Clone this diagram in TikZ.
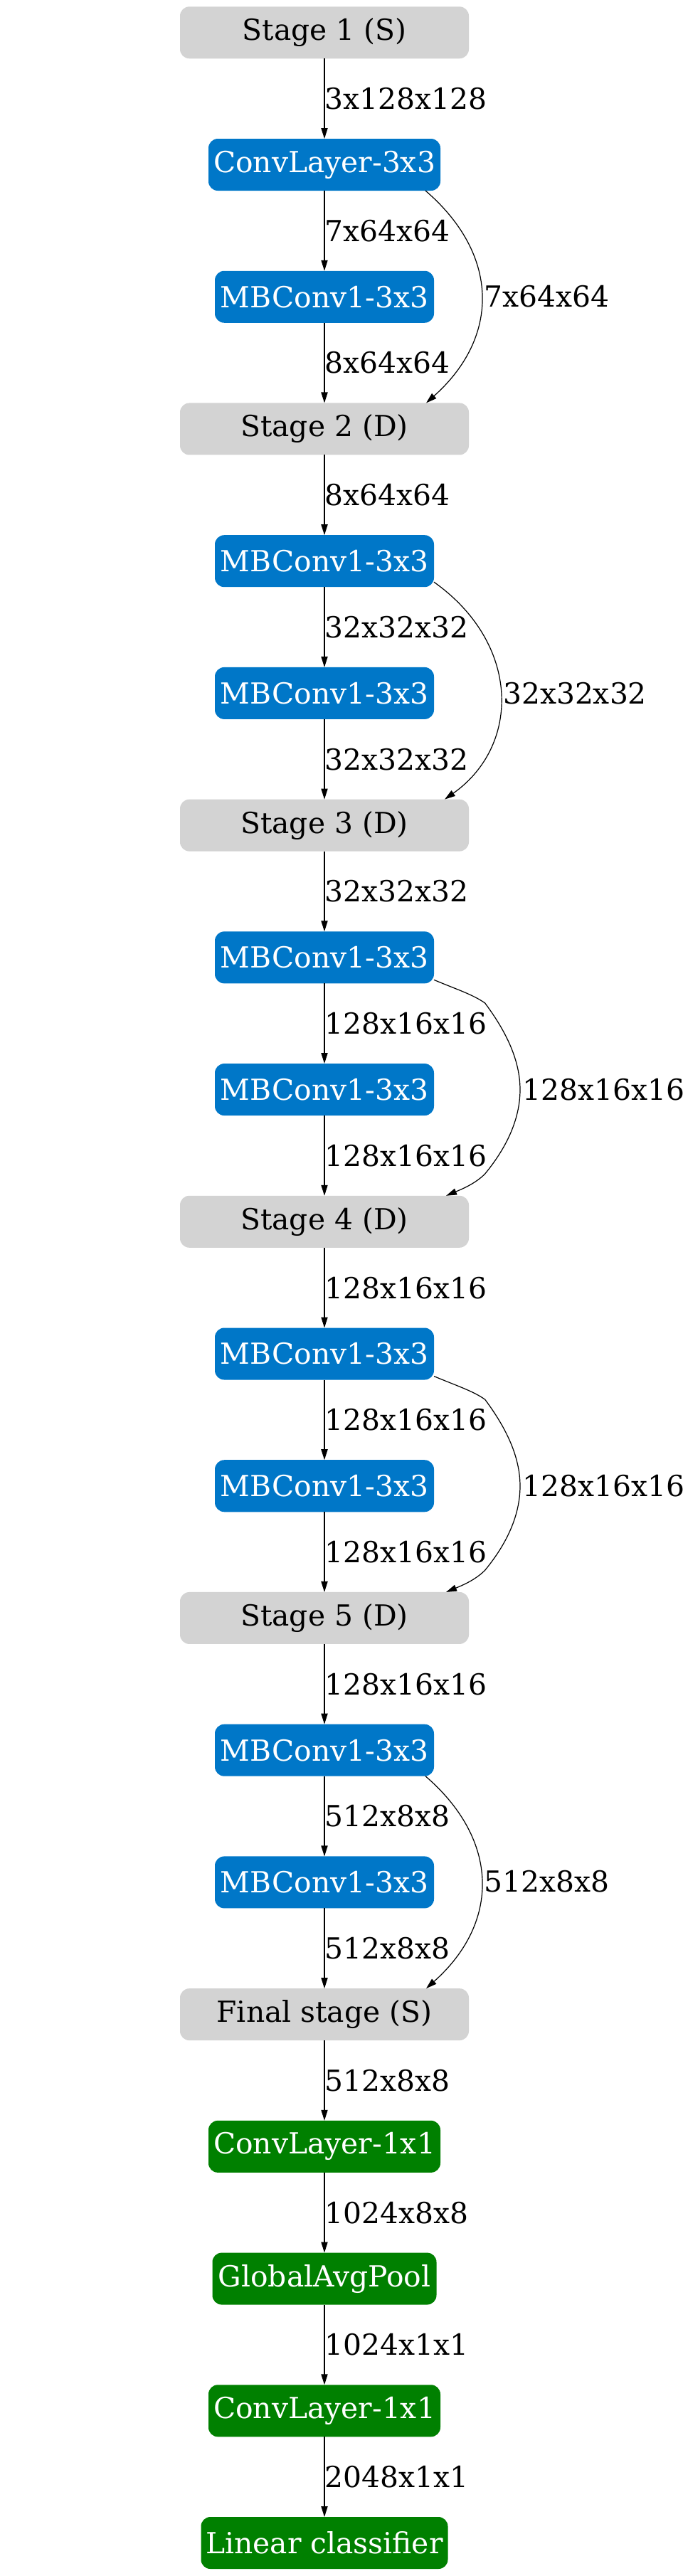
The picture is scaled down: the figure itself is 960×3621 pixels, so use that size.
\documentclass[tikz,border=0pt]{standalone}
\usepackage{fontspec}
\setmainfont{DejaVu Serif}
\usetikzlibrary{arrows.meta, calc, positioning}
\definecolor{convblue}{RGB}{0,119,200}
\definecolor{headgreen}{RGB}{0,128,0}
\definecolor{stagegray}{RGB}{211,211,211}
\tikzset{
	block/.style={rounded corners=3.3pt, minimum height=18.25pt, inner sep=0pt, outer sep=0pt, font=\fontsize{10.2}{12}\selectfont},
	stagebox/.style={block, fill=stagegray, minimum width=101.5pt},
	bluebox/.style={block, fill=convblue, text=white, minimum width=#1},
	greenbox/.style={block, fill=headgreen, text=white, minimum width=#1},
	flow/.style={-{Triangle[length=3.75pt,width=2.3pt]}, line width=0.3pt},
	dims/.style={font=\fontsize{10.2}{12}\selectfont, inner sep=0pt, right},
}

\begin{document}
\begin{tikzpicture}[x=0.25pt, y=-0.25pt, node distance=28.18pt]
\useasboundingbox (0,0) rectangle (960,3621);
% main column
\node[stagebox] (s1) at (456,45.8) {Stage 1 (S)};
\node[bluebox=81.5pt, below=of s1] (c3) {ConvLayer-3x3};
\node[bluebox=77pt, below=of c3] (m2) {MBConv1-3x3};
\node[stagebox, below=of m2] (s2) {Stage 2 (D)};
\node[bluebox=77pt, below=of s2] (m4) {MBConv1-3x3};
\node[bluebox=77pt, below=of m4] (m5) {MBConv1-3x3};
\node[stagebox, below=of m5] (s3) {Stage 3 (D)};
\node[bluebox=77pt, below=of s3] (m7) {MBConv1-3x3};
\node[bluebox=77pt, below=of m7] (m8) {MBConv1-3x3};
\node[stagebox, below=of m8] (s4) {Stage 4 (D)};
\node[bluebox=77pt, below=of s4] (m10) {MBConv1-3x3};
\node[bluebox=77pt, below=of m10] (m11) {MBConv1-3x3};
\node[stagebox, below=of m11] (s5) {Stage 5 (D)};
\node[bluebox=77pt, below=of s5] (m13) {MBConv1-3x3};
\node[bluebox=77pt, below=of m13] (m14) {MBConv1-3x3};
\node[stagebox, below=of m14] (sf) {Final stage (S)};
\node[greenbox=81.5pt, below=of sf] (c1a) {ConvLayer-1x1};
\node[greenbox=78.75pt, below=of c1a] (gap) {GlobalAvgPool};
\node[greenbox=81.5pt, below=of gap] (c1b) {ConvLayer-1x1};
\node[greenbox=86.75pt, below=of c1b] (lin) {Linear classifier};
% straight edges
\foreach \a/\b/\t in {s1/c3/3x128x128, c3/m2/7x64x64, m2/s2/8x64x64,
	s2/m4/8x64x64, m4/m5/32x32x32, m5/s3/32x32x32,
	s3/m7/32x32x32, m7/m8/128x16x16, m8/s4/128x16x16,
	s4/m10/128x16x16, m10/m11/128x16x16, m11/s5/128x16x16,
	s5/m13/128x16x16, m13/m14/512x8x8, m14/sf/512x8x8,
	sf/c1a/512x8x8, c1a/gap/1024x8x8, gap/c1b/1024x1x1, c1b/lin/2048x1x1}
	\draw[flow] (\a) -- (\b) node[dims, midway] {\t};
% skip edges, narrow ones
\foreach \a/\b/\t/\o in {c3/s2/7x64x64/0, m13/sf/512x8x8/2228.8}
	\draw[flow] ($(\a.south)+(142,0)$) .. controls (702.7,{358+\o}) and (702.7,{474+\o}) .. node[dims, pos=0.5, xshift=0.8pt] {\t} ($(\b.north)+(143,0)$);
\draw[flow] ($(m4.south east)+(0,-7)$) .. controls (732,905) and (732,1048) .. node[dims, pos=0.5, xshift=0.8pt] {32x32x32} ($(s3.north)+(169,0)$);
% skip edges, wide ones
\foreach \a/\b/\t/\o in {m7/s4/128x16x16/0, m10/s5/128x16x16/557.2}
	\draw[flow] ($(\a.south east)+(0,-5)$) .. controls (640,{1390+\o}) and (665,{1398+\o}) .. (681.7,{1410+\o})
		.. controls (713,{1452+\o}) and (731,{1492+\o}) .. (731,{1531.7+\o}) node[dims, xshift=0.8pt] {\t}
		.. controls (731,{1572+\o}) and (713,{1612+\o}) .. (681.7,{1650+\o})
		.. controls (668,{1664+\o}) and (648,{1672+\o}) .. ($(\b.north)+(171,0)$);
\end{tikzpicture}
\end{document}
